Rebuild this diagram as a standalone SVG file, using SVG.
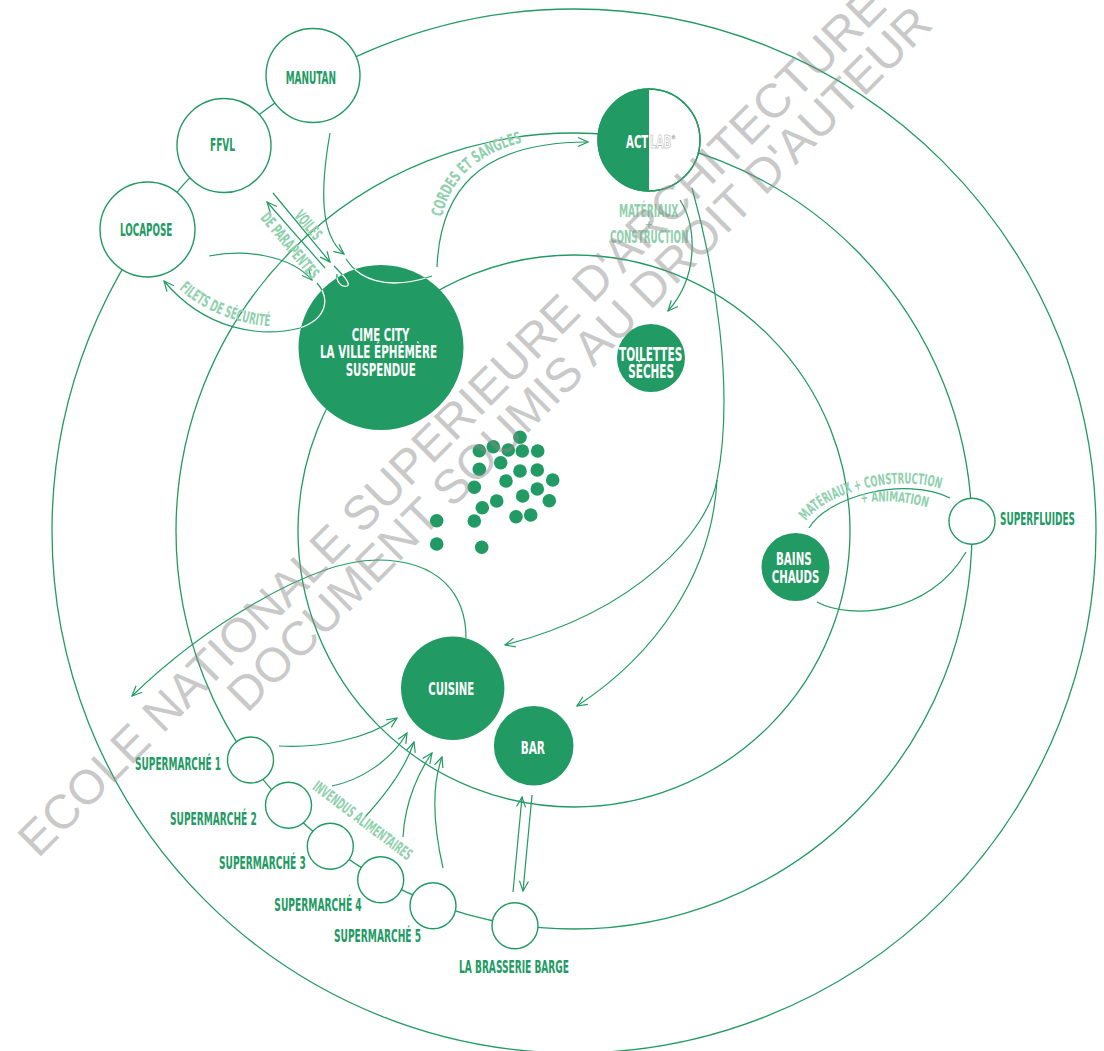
<svg xmlns="http://www.w3.org/2000/svg" width="1104" height="1051" viewBox="0 0 1104 1051">
<style>
.ring{fill:none;stroke:#229a63;stroke-width:1.3}
.con{fill:none;stroke:#229a63;stroke-width:1.2}
.arr{fill:none;stroke:#229a63;stroke-width:1.2;marker-end:url(#ah)}
.wnode{fill:#fff;stroke:#229a63;stroke-width:1.4}
.gnode{fill:#229a63}
.lbl{font-family:"Liberation Sans Narrow","DejaVu Sans Condensed","Liberation Sans",sans-serif;font-weight:700;font-size:17px;fill:#229a63}
.wl{fill:#fff}
.lt{font-family:"Liberation Sans Narrow","DejaVu Sans Condensed","Liberation Sans",sans-serif;font-weight:700;font-size:16px;fill:#8fd0ad}
.wm{font-family:"Liberation Sans",Arial,sans-serif;font-size:48px;fill:#8a8a8a;opacity:.45}
.dot{fill:#229a63}
</style>
<defs>
<marker id="ah" viewBox="0 0 12 12" refX="11" refY="6" markerWidth="12" markerHeight="12" markerUnits="userSpaceOnUse" orient="auto">
<path d="M1,1.5 L11,6 L1,10.5" fill="none" stroke="#229a63" stroke-width="1.2"/>
</marker>
<clipPath id="clipCime"><circle cx="381" cy="347.5" r="82.5"/></clipPath>
<path id="p-cont" d="M346,259 C358,278 385,292 432,276"/>
<path id="p-loop" d="M334,266 C341,273 352,284 347,286 C341,288 336,281 337,274"/>
<path id="p-filets" d="M317,283 C330,298 328,318 300,328 C260,338 205,330 164,281"/>
<path id="tp-cordes" d="M442,217 C450,180 478,152 528,141"/>
<path id="tp-filets" d="M179,289 C205,312 236,324 276,327"/>
<path id="tp-mat" d="M806,521 C826,492 900,472 947,491"/>
<path id="tp-anim" d="M861,503 Q895,498 930,508"/>
</defs>
<rect width="1104" height="1051" fill="#fff"/>

<g id="connectors">
<circle class="ring" cx="574" cy="531" r="522"/>
<circle class="ring" cx="574" cy="531" r="398"/>
<circle class="ring" cx="574" cy="531" r="276"/>
<path class="arr" d="M330,133 C320,190 320,235 344,254"/>
<path class="arr" d="M209,256 C245,249 290,255 312,280"/>
<path class="arr" d="M273,193 L330,262"/>
<path class="arr" d="M325,268 L267,202"/>
<use href="#p-cont" class="con"/>
<use href="#p-loop" class="con"/>
<use href="#p-filets" class="arr"/>
<path class="arr" d="M437,267 C440,195 475,142 588,142"/>
<path class="arr" d="M680,200 C696,225 700,275 668,311"/>
<path class="con" d="M692,188 C715,270 735,390 717,480"/>
<path class="arr" d="M717,480 C708,530 640,610 505,645"/>
<path class="arr" d="M717,480 C712,575 655,655 577,706"/>
<path class="con" d="M809,528 C828,496 905,476 950,498"/>
<path class="con" d="M817,602 C850,620 930,615 966,552"/>
<path class="arr" d="M466,638 C466,595 440,560 377,560 C310,560 200,630 132,696"/>
<path class="arr" d="M279,746 C320,748 365,740 397,718"/>
<path class="arr" d="M332,786 C360,780 390,762 407,733"/>
<path class="arr" d="M365,817 C385,795 405,770 414,742"/>
<path class="arr" d="M403,837 C405,800 420,770 432,753"/>
<path class="arr" d="M443,868 C432,820 432,785 442,757"/>
<path class="arr" d="M513,892 L522,797"/>
<path class="arr" d="M532,795 L523,891"/>
</g>

<g id="connector-labels">
<text class="lt"><textPath href="#tp-cordes" textLength="116" lengthAdjust="spacingAndGlyphs">CORDES ET SANGLES</textPath></text>
<text class="lt" transform="translate(308.3,225) rotate(50)" text-anchor="middle" y="5.5" textLength="33" lengthAdjust="spacingAndGlyphs">VOILES</text>
<text class="lt" transform="translate(290,245.7) rotate(50)" text-anchor="middle" y="5.5" textLength="81" lengthAdjust="spacingAndGlyphs">DE PARAPENTES</text>
<text class="lt"><textPath href="#tp-filets" textLength="100" lengthAdjust="spacingAndGlyphs">FILETS DE SÉCURITÉ</textPath></text>
<text class="lt" x="619" y="216.7" textLength="59.3" lengthAdjust="spacingAndGlyphs" style="font-size:17.5px">MATÉRIAUX</text>
<text class="lt" x="649" y="228" text-anchor="middle" style="font-size:11px">+</text>
<text class="lt" x="610" y="243.3" textLength="78.3" lengthAdjust="spacingAndGlyphs" style="font-size:17.5px">CONSTRUCTION</text>
<text class="lt" style="font-size:15px"><textPath href="#tp-mat" textLength="145" lengthAdjust="spacingAndGlyphs">MATÉRIAUX + CONSTRUCTION</textPath></text>
<text class="lt" style="font-size:14px"><textPath href="#tp-anim" textLength="67" lengthAdjust="spacingAndGlyphs">+ ANIMATION</textPath></text>
<text class="lt" transform="translate(362.5,820.8) rotate(37)" text-anchor="middle" y="5" textLength="120" lengthAdjust="spacingAndGlyphs" style="font-size:15.5px">INVENDUS ALIMENTAIRES</text>
</g>

<g id="dots">
<circle class="dot" cx="520" cy="437.3" r="6.8"/>
<circle class="dot" cx="493.3" cy="446.7" r="6.8"/>
<circle class="dot" cx="479.3" cy="450.7" r="6.8"/>
<circle class="dot" cx="508.3" cy="450" r="6.8"/>
<circle class="dot" cx="522.3" cy="451" r="6.8"/>
<circle class="dot" cx="537.7" cy="451" r="6.8"/>
<circle class="dot" cx="500.7" cy="462.7" r="6.8"/>
<circle class="dot" cx="479.3" cy="469.3" r="6.8"/>
<circle class="dot" cx="520" cy="471" r="6.8"/>
<circle class="dot" cx="537.3" cy="470" r="6.8"/>
<circle class="dot" cx="552.7" cy="480" r="6.8"/>
<circle class="dot" cx="506" cy="481" r="6.8"/>
<circle class="dot" cx="474.3" cy="487.3" r="6.8"/>
<circle class="dot" cx="537.3" cy="489" r="6.8"/>
<circle class="dot" cx="522.7" cy="496" r="6.8"/>
<circle class="dot" cx="496.7" cy="501" r="6.8"/>
<circle class="dot" cx="549.3" cy="500.7" r="6.8"/>
<circle class="dot" cx="482.3" cy="507.7" r="6.8"/>
<circle class="dot" cx="530.7" cy="515" r="6.8"/>
<circle class="dot" cx="516" cy="516.7" r="6.8"/>
<circle class="dot" cx="474.3" cy="521" r="6.8"/>
<circle class="dot" cx="436.7" cy="520.7" r="6.8"/>
<circle class="dot" cx="436.7" cy="544" r="6.8"/>
<circle class="dot" cx="481.7" cy="547.3" r="6.8"/>
</g>

<g id="node-manutan"><circle class="wnode" cx="313" cy="75.5" r="47"/><text class="lbl" x="285.7" y="84" textLength="50.3" lengthAdjust="spacingAndGlyphs">MANUTAN</text></g>
<g id="node-ffvl"><circle class="wnode" cx="224" cy="145.5" r="47"/><text class="lbl" x="210" y="150.7" textLength="25" lengthAdjust="spacingAndGlyphs">FFVL</text></g>
<g id="node-locapose"><circle class="wnode" cx="147.5" cy="229.5" r="47.5"/><text class="lbl" x="120" y="235.7" textLength="52.3" lengthAdjust="spacingAndGlyphs">LOCAPOSE</text></g>

<g id="node-cimecity">
<circle class="gnode" cx="381" cy="347.5" r="82.5"/>
<g clip-path="url(#clipCime)" fill="none" stroke="#fff" stroke-width="1.3">
<use href="#p-cont"/><use href="#p-loop"/><use href="#p-filets"/>
</g>
<text class="lbl wl" x="351.7" y="340.7" textLength="57.6" lengthAdjust="spacingAndGlyphs" style="font-size:18.5px">CIME CITY</text>
<text class="lbl wl" x="320" y="357.7" textLength="117" lengthAdjust="spacingAndGlyphs" style="font-size:18.5px">LA VILLE ÉPHÉMÈRE</text>
<text class="lbl wl" x="345.7" y="375.7" textLength="70" lengthAdjust="spacingAndGlyphs" style="font-size:18.5px">SUSPENDUE</text>
</g>

<g id="node-actlab">
<circle class="wnode" cx="649" cy="140" r="51"/>
<path class="gnode" d="M649,89 A51,51 0 0 0 649,191 Z"/>
<circle cx="649" cy="140" r="51" fill="none" stroke="#229a63" stroke-width="1.4"/>
<text class="lbl wl" x="626" y="148" textLength="22.3" lengthAdjust="spacingAndGlyphs">ACT</text>
<text class="lbl" x="650" y="148" textLength="21" lengthAdjust="spacingAndGlyphs" style="fill:#fff;stroke:#a5a5a5;stroke-width:0.6">LAB</text>
<text class="lbl" x="671.5" y="142" style="font-size:8px;fill:#fff;stroke:#a5a5a5;stroke-width:0.4">*</text>
</g>

<g id="node-toilettes"><circle class="gnode" cx="651" cy="358" r="34"/>
<text class="lbl wl" x="619" y="361" textLength="63.3" lengthAdjust="spacingAndGlyphs" style="font-size:19px">TOILETTES</text>
<text class="lbl wl" x="628.3" y="377.7" textLength="45.7" lengthAdjust="spacingAndGlyphs" style="font-size:19px">SÈCHES</text></g>

<g id="node-bains"><circle class="gnode" cx="795.5" cy="567" r="34"/>
<text class="lbl wl" x="776" y="565" textLength="35.7" lengthAdjust="spacingAndGlyphs">BAINS</text>
<text class="lbl wl" x="771.7" y="583.3" textLength="47.7" lengthAdjust="spacingAndGlyphs">CHAUDS</text></g>

<g id="node-superfluides"><circle class="wnode" cx="972" cy="521.3" r="23"/>
<text class="lbl" x="1000" y="525" textLength="75" lengthAdjust="spacingAndGlyphs">SUPERFLUIDES</text></g>

<g id="node-cuisine"><circle class="gnode" cx="452.7" cy="688.3" r="51.7"/>
<text class="lbl wl" x="428.3" y="695" textLength="46" lengthAdjust="spacingAndGlyphs" style="font-size:18.5px">CUISINE</text></g>

<g id="node-bar"><circle class="gnode" cx="533.7" cy="745.8" r="39.8"/>
<text class="lbl wl" x="520.7" y="754.3" textLength="24.3" lengthAdjust="spacingAndGlyphs" style="font-size:18.5px">BAR</text></g>

<g id="node-sm1"><circle class="wnode" cx="250.5" cy="760" r="23"/><text class="lbl" x="135" y="770" textLength="86" lengthAdjust="spacingAndGlyphs">SUPERMARCHÉ 1</text></g>
<g id="node-sm2"><circle class="wnode" cx="288.5" cy="805.3" r="23"/><text class="lbl" x="170" y="825.3" textLength="86.7" lengthAdjust="spacingAndGlyphs">SUPERMARCHÉ 2</text></g>
<g id="node-sm3"><circle class="wnode" cx="330.3" cy="846.3" r="23"/><text class="lbl" x="219" y="869.3" textLength="86.7" lengthAdjust="spacingAndGlyphs">SUPERMARCHÉ 3</text></g>
<g id="node-sm4"><circle class="wnode" cx="380.7" cy="879.7" r="23"/><text class="lbl" x="274.3" y="911" textLength="87.4" lengthAdjust="spacingAndGlyphs">SUPERMARCHÉ 4</text></g>
<g id="node-sm5"><circle class="wnode" cx="433" cy="905.7" r="23"/><text class="lbl" x="334" y="941.7" textLength="87" lengthAdjust="spacingAndGlyphs">SUPERMARCHÉ 5</text></g>
<g id="node-brasserie"><circle class="wnode" cx="515" cy="925.7" r="23"/><text class="lbl" x="459" y="973.3" textLength="110" lengthAdjust="spacingAndGlyphs">LA BRASSERIE BARGE</text></g>

<g id="watermark">
<text class="wm" x="38" y="859" transform="rotate(-45 38 859)">ECOLE NATIONALE SUPERIEURE D'ARCHITECTURE</text>
<text class="wm" x="247" y="714" transform="rotate(-45 247 714)">DOCUMENT SOUMIS AU DROIT D'AUTEUR</text>
</g>
</svg>
